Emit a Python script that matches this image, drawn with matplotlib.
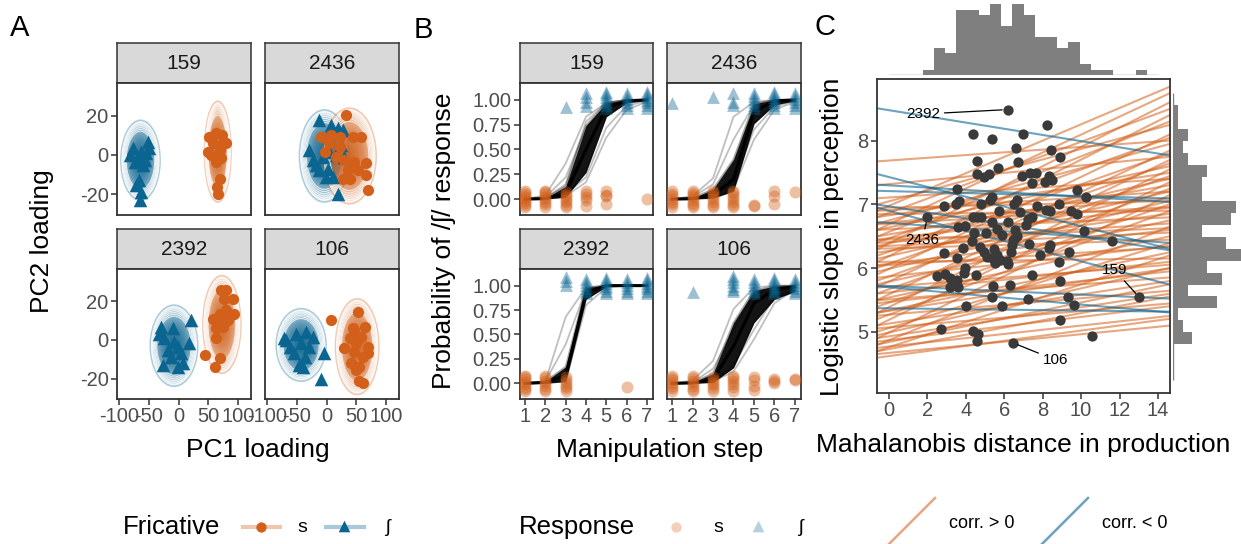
import numpy as np
import matplotlib.pyplot as plt
from matplotlib.patches import Ellipse
from matplotlib.colors import to_rgba

plt.rcParams['font.family'] = ['Liberation Sans', 'DejaVu Sans']
plt.rcParams['axes.unicode_minus'] = False

W, H = 1241, 544
ORANGE = '#D2601A'
BLUE = '#0A6591'
DARK = '#333333'
TICKCOL = '#4D4D4D'

talkers = ['159', '2436', '2392', '106']

# ---- panel A: PCA loadings per talker ----
a_s_pc1 = {
    '159': [52, 63, 74, 77, 58, 49, 69, 55, 72, 63, 69, 64, 66, 80],
    '2436': [32, -9, 8, 22, 44, 58, -3, 16, 30, 47, 67, 36, 53, 39, 27, 67, 70, 5, 22],
    '2392': [72, 80, 91, 77, 69, 80, 94, 58, 72, 83, 63, 75, 63, 44, 69, 61, 89],
    '106': [8, 53, 44, 64, 58, 39, 50, 30, 47, 70, 61, 41, 55, 50, 70, 55, 61, 47],
}
a_s_pc2 = {
    '159': [9.4, 11.1, 10.2, 6.8, 6.0, 1.7, 2.5, 0.0, -1.7, -3.4, -12.0, -16.3, -20.0, 6.0],
    '2436': [20.5, 9.4, 10.2, 9.4, 9.1, 9.1, 1.7, -1.2, -2.6, -3.4, -4.3, -7.7, -7.7, -12.0, -12.0, -10.3, -18.0, 6.0, 4.3],
    '2392': [25.6, 25.6, 21.3, 21.3, 13.6, 15.3, 13.6, 11.0, 9.3, 10.2, 5.9, 6.8, 0.8, -7.8, -9.5, -13.8, 12.7],
    '106': [10.5, 14.5, 5.9, 6.8, 1.6, 0.8, -1.8, -4.4, -6.1, -6.9, -8.6, -12.0, -13.8, -15.5, -3.5, -21.5, -22.3, 5.0],
}
a_sh_pc1 = {
    '159': [-77, -63, -52, -49, -82, -68, -57, -74, -60, -66, -71, -63, -65, -54],
    '2436': [-12, 8, 19, 2, 27, -29, -23, -6, 5, 16, 30, -12, 2, 11, -1, 19, -18, 25],
    '2392': [-29, -10, 21, -24, -7, -1, 18, -18, 4, -12, -26, -1, 7, -32],
    '106': [-71, -51, -34, -23, -62, -43, -29, -54, -37, -46, -40, -4, -9, -68],
}
a_sh_pc2 = {
    '159': [3.4, 1.7, 6.8, 3.4, 0.0, -1.7, -2.6, -3.4, -5.1, -12.8, -15.4, -18.8, -23.1, 0.8],
    '2436': [17.9, 15.4, 13.7, 10.2, 12.8, 2.5, -2.6, -0.9, 1.7, 0.0, -0.9, -7.7, -6.9, -11.1, -11.1, -19.7, -5.1, 5.1],
    '2392': [6.8, 5.9, 10.2, 0.8, -0.9, -3.5, -1.8, -5.2, -6.9, -8.6, -12.9, -13.8, -12.1, 3.3],
    '106': [0.8, 3.3, 4.2, 1.6, -3.5, -1.8, -3.5, -6.9, -8.6, -12.9, -13.8, -6.9, -20.5, -0.1],
}
# ellipse: centre x, centre y, half width, half height
ell_s = {'159': (66, 1.7, 22.4, 25.7), '2436': (38.6, -0.5, 45, 24.4),
         '2392': (73, 8.0, 32, 25.3), '106': (51.6, -3.5, 36.5, 24.8)}
ell_sh = {'159': (-64, -2.7, 33, 20.4), '2436': (-3.5, -0.5, 42, 23.5),
          '2392': (-7.6, -3.0, 40, 21), '106': (-42.7, -2.6, 42, 18.8)}

# ---- panel B: responses per step ----
steps = [1, 2, 3, 4, 5, 6, 7]
resp_s = {
    '159': {1: [-0.08, -0.06, -0.04, -0.02, 0, 0.02, 0.04, 0.06, 0.08],
            2: [-0.08, -0.05, -0.03, 0, 0.02, 0.05, 0.07, 0.08],
            3: [-0.08, -0.06, -0.03, -0.01, 0.02, 0.04, 0.07],
            4: [0.08, 0.05, 0.02, -0.01, -0.07], 5: [0.08, 0.04, 0.03, -0.05], 7: [0.0]},
    '2436': {1: [-0.08, -0.05, -0.03, 0, 0.03, 0.05, 0.08],
             2: [-0.08, -0.06, -0.04, -0.01, 0.02, 0.04, 0.06, 0.08],
             3: [-0.08, -0.06, -0.03, 0, 0.03, 0.06, 0.08],
             4: [-0.08, -0.06, -0.03, 0, 0.03, 0.06, 0.08], 5: [-0.06, -0.07],
             6: [0.08, 0.03, -0.05], 7: [0.07]},
    '2392': {1: [-0.08, -0.06, -0.04, -0.01, 0.01, 0.04, 0.06, 0.08],
             2: [-0.08, -0.06, -0.03, 0, 0.02, 0.05, 0.08],
             3: [-0.08, -0.05, -0.03, 0, 0.03, 0.07], 6: [-0.04]},
    '106': {1: [-0.08, -0.05, -0.03, 0, 0.03, 0.05, 0.08],
            2: [-0.08, -0.06, -0.03, 0, 0.02, 0.05, 0.08],
            3: [-0.08, -0.05, -0.02, 0, 0.03, 0.06],
            4: [0.08, 0.05, 0.02, -0.01, -0.04, -0.08], 5: [0.07, 0.03, -0.03, -0.07],
            6: [0.04, 0.02, 0.0], 7: [0.04, 0.03]},
}
resp_sh = {
    '159': {3: [0.93], 4: [1.07, 1.03, 0.98, 0.94],
            5: [0.92, 0.95, 0.98, 1.0, 1.03, 1.06, 1.08],
            6: [0.92, 0.95, 0.98, 1.01, 1.04, 1.07],
            7: [0.92, 0.95, 0.98, 1.0, 1.03, 1.06, 1.08]},
    '2436': {1: [0.97], 3: [1.03], 4: [1.07, 0.98, 0.95],
             5: [0.92, 0.95, 0.98, 1.01, 1.04, 1.07],
             6: [0.92, 0.95, 0.98, 1.0, 1.03, 1.06, 1.08],
             7: [0.92, 0.95, 0.98, 1.01, 1.04, 1.07]},
    '2392': {3: [1.09, 1.05, 1.01], 4: [0.92, 0.95, 0.98, 1.01, 1.04, 1.07],
             5: [0.92, 0.95, 0.98, 1.0, 1.03, 1.06, 1.08],
             6: [0.92, 0.95, 0.98, 1.01, 1.04, 1.07],
             7: [0.92, 0.95, 0.98, 1.0, 1.03, 1.06, 1.08]},
    '106': {2: [0.93], 4: [1.1, 1.07, 1.04, 1.0, 0.97, 0.94],
            5: [0.92, 0.95, 0.98, 1.01, 1.04, 1.07],
            6: [0.92, 0.95, 0.98, 1.0, 1.03, 1.06, 1.08],
            7: [0.92, 0.95, 0.98, 1.01, 1.04, 1.07]},
}
# fitted curve (mean), dense band of posterior draws, and outlying draws
curve_mean = {
    '159': [0, 0.005, 0.06, 0.5, 0.92, 0.99, 1.0],
    '2436': [0, 0.004, 0.04, 0.2, 0.88, 0.99, 1.0],
    '2392': [0, 0.01, 0.08, 0.93, 1.0, 1.0, 1.0],
    '106': [0, 0.005, 0.04, 0.38, 0.82, 0.96, 0.99],
}
band_lo = {
    '159': [0, 0.002, 0.02, 0.27, 0.83, 0.97, 0.995],
    '2436': [0, 0.002, 0.01, 0.08, 0.76, 0.95, 0.99],
    '2392': [0, 0.002, 0.02, 0.86, 0.99, 1.0, 1.0],
    '106': [0, 0.002, 0.01, 0.16, 0.62, 0.86, 0.94],
}
band_hi = {
    '159': [0, 0.01, 0.13, 0.74, 0.97, 0.998, 1.0],
    '2436': [0, 0.01, 0.10, 0.40, 0.96, 1.0, 1.0],
    '2392': [0, 0.02, 0.17, 0.98, 1.0, 1.0, 1.0],
    '106': [0, 0.01, 0.10, 0.62, 0.95, 0.995, 1.0],
}
draws_out = {
    '159': [[0, 0.04, 0.36, 0.83, 0.97, 1, 1], [0, 0.02, 0.22, 0.72, 0.95, 0.99, 1],
            [0, 0.003, 0.03, 0.17, 0.62, 0.90, 0.98], [0, 0.005, 0.05, 0.22, 0.72, 0.94, 0.99],
            [0, 0.01, 0.15, 0.78, 0.97, 1, 1]],
    '2436': [[0, 0.03, 0.21, 0.83, 0.98, 1, 1], [0, 0.02, 0.15, 0.6, 0.95, 1, 1],
             [0, 0.003, 0.02, 0.1, 0.6, 0.9, 0.98], [0, 0.005, 0.04, 0.15, 0.7, 0.93, 0.99]],
    '2392': [[0, 0.02, 0.68, 0.98, 1, 1, 1], [0, 0.02, 0.4, 0.96, 1, 1, 1],
             [0, 0.003, 0.02, 0.8, 0.98, 1, 1]],
    '106': [[0, 0.03, 0.23, 0.76, 0.98, 1, 1], [0, 0.01, 0.15, 0.55, 0.9, 0.99, 1],
            [0, 0.003, 0.02, 0.12, 0.45, 0.82, 0.96], [0, 0.004, 0.03, 0.18, 0.55, 0.88, 0.97]],
}

# ---- panel C: production distance vs perception slope ----
c_dist = [6.18, 4.35, 5.38, 6.95, 8.24, 6.60, 8.41, 8.92, 4.58, 6.72, 5.66, 4.58, 4.96, 5.20,
          6.93, 7.33, 7.64, 7.45, 8.10, 8.34, 8.48, 3.52, 9.79, 10.24, 2.87, 3.47, 3.64, 4.79,
          5.26, 5.34, 5.71, 6.68, 6.48, 6.83, 7.26, 7.70, 8.17, 8.40, 8.87, 9.47, 9.79, 1.99,
          3.57, 3.95, 4.35, 4.56, 4.77, 5.35, 5.64, 6.18, 6.56, 7.14, 7.45, 10.13, 11.61, 2.86,
          3.87, 4.30, 4.75, 4.92, 5.10, 5.46, 5.35, 5.52, 5.78, 6.13, 6.37, 6.44, 6.68, 6.39,
          7.31, 7.87, 8.34, 8.39, 9.38, 3.52, 3.95, 2.47, 2.89, 3.17, 3.52, 3.17, 3.60, 3.90,
          4.51, 6.20, 7.45, 8.84, 8.89, 5.43, 6.30, 5.35, 7.21, 9.30, 9.61, 3.99, 5.90, 13.04,
          8.92, 2.68, 4.39, 4.65, 4.60, 6.43, 10.59, 5.05, 5.87, 4.42, 6.55, 5.62]
c_slope = [8.49, 8.11, 8.03, 8.10, 8.24, 7.89, 7.85, 7.74, 7.68, 7.67, 7.58, 7.48, 7.43, 7.48,
           7.45, 7.49, 7.49, 7.34, 7.36, 7.44, 7.38, 7.24, 7.23, 7.11, 6.98, 7.01, 7.05, 7.01,
           7.07, 7.11, 6.89, 7.07, 7.01, 6.88, 6.77, 6.97, 6.92, 6.90, 7.01, 6.90, 6.85, 6.80,
           6.65, 6.66, 6.80, 6.81, 6.80, 6.73, 6.61, 6.73, 6.60, 6.68, 6.81, 6.59, 6.42, 6.24,
           6.31, 6.42, 6.34, 6.25, 6.18, 6.30, 6.16, 6.08, 6.13, 6.11, 6.26, 6.45, 6.51, 6.37,
           6.38, 6.21, 6.31, 6.37, 6.25, 6.16, 6.00, 5.88, 5.91, 5.85, 5.81, 5.71, 5.71, 5.92,
           5.89, 6.06, 5.89, 6.10, 5.80, 5.72, 5.74, 5.54, 5.51, 5.54, 5.42, 5.40, 5.40, 5.54,
           5.18, 5.04, 5.02, 4.96, 4.85, 4.83, 4.93, 6.55, 6.52, 6.55, 6.47, 6.20]
label_ids = ['2392', '2436', '159', '106']
label_pt = [(6.18, 8.49), (1.99, 6.80), (13.04, 5.54), (6.43, 4.83)]
label_txt = [(1.78, 8.42), (1.74, 6.44), (11.74, 5.97), (8.65, 4.56)]

# regression draws: predicted slope at distance 0 and at distance 14
pos_y0 = [6.98, 6.69, 6.39, 6.87, 6.19, 6.57, 7.05, 5.99, 6.47, 7.69, 6.75, 5.79, 6.26, 7.32,
          5.59, 6.07, 6.64, 5.39, 6.83, 5.87, 6.39, 7.11, 5.19, 6.53, 5.67, 6.91, 6.19, 4.99,
          6.72, 5.99, 6.95, 5.46, 6.47, 6.85, 5.27, 6.27, 6.61, 6.70, 5.79, 6.41, 4.87, 6.45,
          6.07, 5.54, 6.35, 6.31, 5.06, 5.87, 6.05, 5.34, 4.76, 6.10, 5.62, 4.99, 5.47, 4.67,
          4.62, 4.77, 4.87, 5.07, 4.73, 4.93, 5.27, 4.84, 5.13, 5.51, 5.33, 5.71]
pos_y14 = [8.77, 8.66, 8.51, 8.43, 8.31, 8.23, 8.20, 8.01, 7.98, 7.99, 7.90, 7.76, 7.74, 7.73,
           7.61, 7.58, 7.56, 7.46, 7.47, 7.38, 7.36, 7.39, 7.26, 7.27, 7.18, 7.19, 7.16, 7.06,
           7.08, 7.01, 7.05, 6.94, 6.93, 6.90, 6.83, 6.83, 6.79, 6.95, 6.71, 6.69, 6.58, 6.62,
           6.58, 6.46, 6.55, 6.44, 6.34, 6.33, 6.32, 6.21, 6.14, 6.15, 6.08, 5.96, 5.93, 5.08,
           5.18, 5.23, 5.38, 5.43, 5.52, 5.57, 5.63, 5.71, 5.77, 5.84, 5.97, 6.04]
neg_y0 = [8.48, 7.43, 7.30, 7.21, 6.97, 6.90, 6.71, 5.72, 5.70, 5.37]
neg_y14 = [7.80, 6.35, 7.05, 7.10, 6.31, 5.79, 6.41, 5.53, 5.32, 5.32]

# marginal histograms (counts)
hist_x_counts = [0, 0, 0, 1, 5, 4, 12, 12, 11, 13, 9, 13, 11, 7, 7, 5, 6, 2, 1, 1, 0, 0, 1, 0]
hist_y_counts = [0, 0, 0, 4, 2, 1, 9, 3, 10, 7, 14, 11, 6, 12, 13, 6, 6, 7, 3, 2, 3, 1, 1, 0]
hist_x_range = (0, 14)
hist_y_range = (4.24, 8.75)


fig = plt.figure(figsize=(W / 100, H / 100), dpi=100)


def px_axes(x0, y0, x1, y1):
    return fig.add_axes([x0 / W, 1 - y1 / H, (x1 - x0) / W, (y1 - y0) / H])


def ftext(x, y, s, **kw):
    fig.text(x / W, 1 - y / H, s, **kw)


def strip(x0, y0, x1, y1, label):
    sax = px_axes(x0, y0, x1, y1)
    sax.set_facecolor('#D9D9D9')
    sax.set_xticks([])
    sax.set_yticks([])
    for sp in sax.spines.values():
        sp.set_color(DARK)
        sp.set_linewidth(1.1)
    sax.text(0.5, 0.48, label, ha='center', va='center', fontsize=15,
             color='#1A1A1A', transform=sax.transAxes)


def frame(ax, show_x, show_y, size=14.5):
    for sp in ax.spines.values():
        sp.set_color(DARK)
        sp.set_linewidth(1.3)
    ax.tick_params(length=4, width=1.1, color=DARK, labelsize=size,
                   labelcolor=TICKCOL, pad=2)
    ax.tick_params(axis='x', bottom=show_x, labelbottom=show_x)
    ax.tick_params(axis='y', left=show_y, labelleft=show_y)


def ellipse_stack(ax, e, color):
    # stack of shrinking ellipses gives the density-like shading
    cx, cy, rx, ry = e
    ax.add_patch(Ellipse((cx, cy), 2 * rx, 2 * ry, facecolor=to_rgba(color, 0.08),
                         edgecolor=to_rgba(color, 0.3), lw=1.2, zorder=1))
    for k in np.linspace(0.95, 0.1, 20):
        edge = to_rgba('white', 0.75) if k > 0.7 else 'none'
        ax.add_patch(Ellipse((cx, cy), 2 * rx * k, 2 * ry * k,
                             facecolor=to_rgba(color, 0.1),
                             edgecolor=edge, lw=0.8, zorder=1))


cols_a = [(117, 251), (265, 399)]
cols_b = [(520, 653), (667, 801)]
rows = [(83, 215), (269, 399)]
strips = [(43, 83), (229, 269)]

for i, t in enumerate(talkers):
    r, c = divmod(i, 2)
    # panel A
    x0, x1 = cols_a[c]
    strip(x0, strips[r][0], x1, strips[r][1], t)
    ax = px_axes(x0, rows[r][0], x1, rows[r][1])
    ellipse_stack(ax, ell_sh[t], BLUE)
    ellipse_stack(ax, ell_s[t], ORANGE)
    ax.scatter(a_sh_pc1[t], a_sh_pc2[t], marker='^', s=95, color=BLUE, lw=0, zorder=3)
    ax.scatter(a_s_pc1[t], a_s_pc2[t], marker='o', s=65, color=ORANGE, lw=0, zorder=3)
    ax.set_xlim(-103.5, 122)
    ax.set_ylim(-30.6, 36.7)
    ax.set_xticks([-100, -50, 0, 50, 100])
    ax.set_yticks([-20, 0, 20])
    frame(ax, r == 1, c == 0)

    # panel B
    x0, x1 = cols_b[c]
    strip(x0, strips[r][0], x1, strips[r][1], t)
    ax = px_axes(x0, rows[r][0], x1, rows[r][1])
    ax.fill_between(steps, band_lo[t], band_hi[t], color='black', alpha=0.92, lw=0, zorder=2)
    ax.plot(steps, band_lo[t], color='black', alpha=0.35, lw=1.3, zorder=2)
    ax.plot(steps, band_hi[t], color='black', alpha=0.35, lw=1.3, zorder=2)
    for d in draws_out[t]:
        ax.plot(steps, d, color='black', alpha=0.25, lw=1.3, zorder=2)
    ax.plot(steps, curve_mean[t], color='black', lw=2.2, zorder=2)
    for st, ys in resp_s[t].items():
        ax.scatter([st] * len(ys), ys, marker='o', s=75, color=ORANGE, alpha=0.4, lw=0, zorder=3)
    for st, ys in resp_sh[t].items():
        ax.scatter([st] * len(ys), ys, marker='^', s=85, color=BLUE, alpha=0.4, lw=0, zorder=3)
    ax.set_xlim(0.75, 7.3)
    ax.set_ylim(-0.16, 1.17)
    ax.set_xticks(steps)
    ax.set_yticks([0, 0.25, 0.5, 0.75, 1.0])
    ax.set_yticklabels(['0.00', '0.25', '0.50', '0.75', '1.00'])
    frame(ax, r == 1, c == 0)

# panel C main
axc = px_axes(877, 79, 1170, 393)
for y0, y14 in zip(pos_y0, pos_y14):
    axc.axline((0, y0), (14, y14), color=ORANGE, alpha=0.55, lw=1.5, zorder=1)
for y0, y14 in zip(neg_y0, neg_y14):
    axc.axline((0, y0), (14, y14), color=BLUE, alpha=0.6, lw=1.5, zorder=1)
axc.scatter(c_dist, c_slope, s=55, color='#3A3A3A', lw=0, zorder=3)
for lab, pt, tx in zip(label_ids, label_pt, label_txt):
    axc.annotate(lab, xy=pt, xytext=tx, ha='center', va='center', fontsize=11,
                 arrowprops=dict(arrowstyle='-', color='black', lw=0.9,
                                 shrinkA=1, shrinkB=4), zorder=4)
axc.set_xlim(-0.63, 14.63)
axc.set_ylim(4.04, 8.97)
axc.set_xticks(range(0, 15, 2))
axc.set_yticks([5, 6, 7, 8])
frame(axc, True, True, size=14.5)

# marginal histograms
axt = px_axes(877, 0, 1170, 75)
ex = np.linspace(hist_x_range[0], hist_x_range[1], len(hist_x_counts) + 1)
axt.bar(ex[:-1], hist_x_counts, width=np.diff(ex), align='edge', color='#7F7F7F', lw=0)
axt.hlines(0, ex[0], ex[-1], color='#7F7F7F', lw=1)
axt.set_xlim(-0.63, 14.63)
axt.set_ylim(0, 13.76)
axt.axis('off')

axr = px_axes(1173, 79, 1241, 393)
ey = np.linspace(hist_y_range[0], hist_y_range[1], len(hist_y_counts) + 1)
axr.barh(ey[:-1], hist_y_counts, height=np.diff(ey), align='edge', color='#7F7F7F', lw=0)
axr.vlines(0, ey[0], ey[-1], color='#7F7F7F', lw=1)
axr.set_ylim(4.04, 8.97)
axr.set_xlim(0, 14)
axr.axis('off')

# titles and labels
ftext(20, 28, 'A', fontsize=21, ha='center', va='center')
ftext(423, 30, 'B', fontsize=21, ha='center', va='center')
ftext(825, 27, 'C', fontsize=21, ha='center', va='center')
ftext(42, 241, 'PC2 loading', fontsize=19, rotation=90, ha='center', va='center')
ftext(258, 450, 'PC1 loading', fontsize=19, ha='center', va='center')
ftext(444, 241, 'Probability of /ʃ/ response', fontsize=19, rotation=90, ha='center', va='center')
ftext(660, 450, 'Manipulation step', fontsize=19, ha='center', va='center')
ftext(832, 237, 'Logistic slope in perception', fontsize=19, rotation=90, ha='center', va='center')
ftext(1023, 445, 'Mahalanobis distance in production', fontsize=19, ha='center', va='center')

# legends
lg = fig.add_axes([0, 0, 1, 1])
lg.set_xlim(0, W)
lg.set_ylim(H, 0)
lg.axis('off')
ly = 527
ftext(123, ly, 'Fricative', fontsize=18.5, ha='left', va='center')
lg.plot([243, 280], [ly, ly], color=ORANGE, alpha=0.35, lw=3)
lg.scatter([261], [ly], marker='o', s=55, color=ORANGE, lw=0)
ftext(302, ly, 's', fontsize=14, ha='center', va='center')
lg.plot([326, 364], [ly, ly], color=BLUE, alpha=0.35, lw=3)
lg.scatter([344], [ly - 1], marker='^', s=70, color=BLUE, lw=0)
ftext(387, ly, 'ʃ', fontsize=14, ha='center', va='center')
ftext(519, ly, 'Response', fontsize=18.5, ha='left', va='center')
lg.scatter([676], [ly], marker='o', s=55, color=ORANGE, alpha=0.3, lw=0)
ftext(718, ly, 's', fontsize=14, ha='center', va='center')
lg.scatter([758], [ly - 1], marker='^', s=70, color=BLUE, alpha=0.3, lw=0)
ftext(800, ly, 'ʃ', fontsize=14, ha='center', va='center')
lg.plot([889, 935], [544, 498], color=ORANGE, alpha=0.55, lw=1.8)
ftext(949, 523, 'corr. > 0', fontsize=13, ha='left', va='center')
lg.plot([1042, 1088], [544, 498], color=BLUE, alpha=0.6, lw=1.8)
ftext(1102, 523, 'corr. < 0', fontsize=13, ha='left', va='center')

fig.savefig('out.png', dpi=100)
